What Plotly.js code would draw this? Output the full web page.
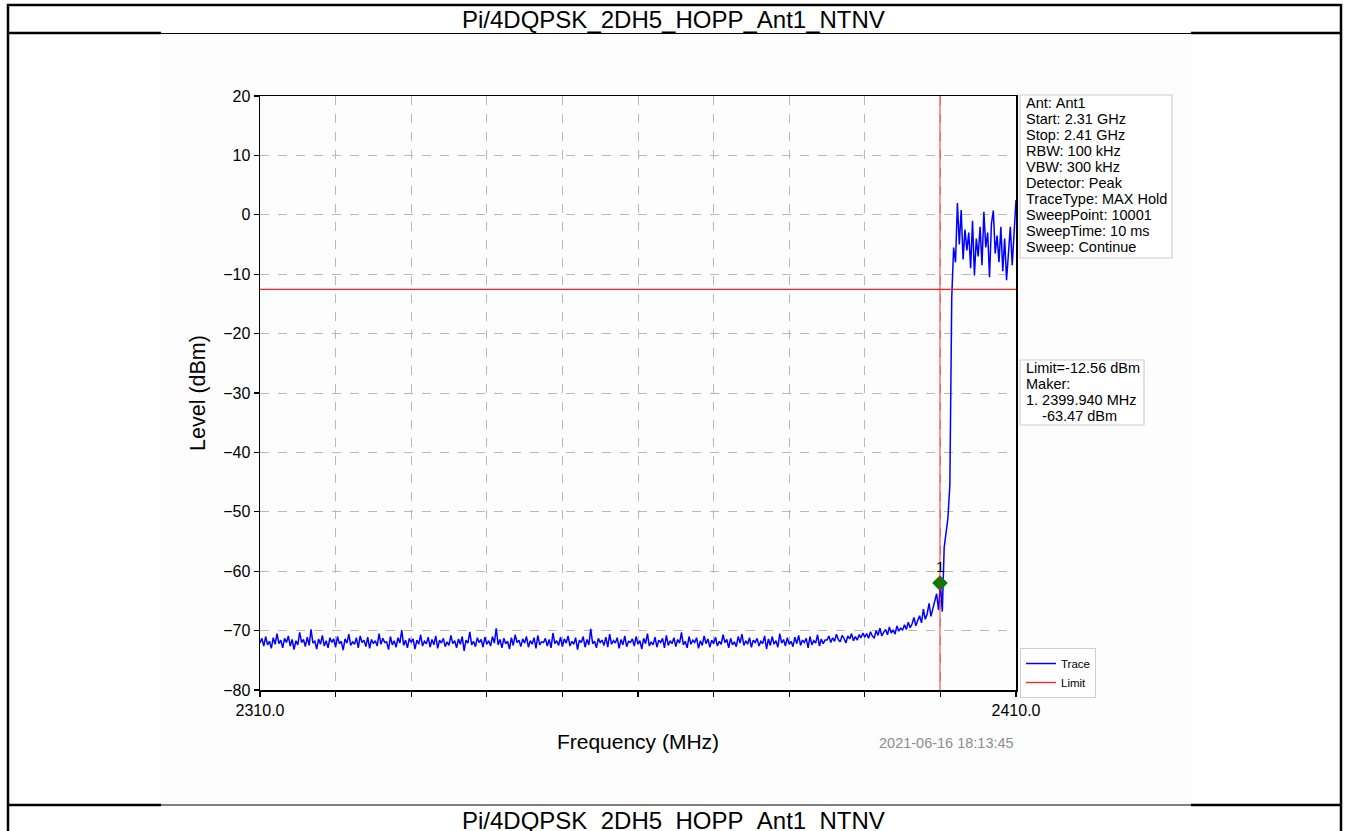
<!DOCTYPE html>
<html>
<head>
<meta charset="utf-8">
<script src="https://cdn.plot.ly/plotly-3.0.1.min.js"></script>
<style>
html,body{margin:0;padding:0;background:#fff;}
#chart{width:1348px;height:831px;}
</style>
</head>
<body>
<div id="chart"></div>
<script>
// ---------------- DATA ----------------
const chartTitle = 'Pi/4DQPSK_2DH5_HOPP_Ant1_NTNV';
const freqStart = 2310;      // MHz
const freqStep = 0.25;       // MHz between plotted sweep points
// noise floor 2310 - 2384.75 MHz
const floorLevels = [
-72.1,-71.3,-72.6,-71.0,-72.4,-71.8,-73.0,-71.2,-72.3,-70.5,-72.2,-71.6,-72.9,-71.3,-72.0,-70.9,-72.6,-71.5,-73.2,-71.7,
-72.4,-70.3,-72.0,-71.5,-72.7,-71.1,-72.5,-69.8,-72.1,-71.8,-73.1,-71.4,-72.3,-70.8,-72.6,-71.7,-72.9,-71.2,-72.0,-71.4,
-72.8,-71.0,-72.2,-71.8,-73.3,-71.4,-72.1,-70.6,-72.5,-71.9,-72.3,-71.2,-72.9,-70.9,-72.0,-71.6,-72.7,-71.1,-73.0,-71.5,
-72.2,-71.7,-72.6,-70.5,-72.3,-71.3,-72.0,-71.9,-73.2,-71.0,-72.4,-71.7,-72.8,-71.2,-72.1,-69.9,-72.5,-71.6,-72.9,-71.3,
-72.0,-71.4,-73.1,-71.6,-72.3,-70.7,-72.6,-71.8,-72.2,-71.1,-72.8,-71.5,-72.4,-70.9,-73.0,-71.6,-72.1,-71.3,-72.7,-71.9,
-72.5,-70.8,-72.2,-71.7,-72.9,-71.4,-72.3,-71.0,-73.4,-71.6,-72.1,-70.2,-72.4,-71.8,-72.7,-71.2,-72.0,-71.5,-72.8,-71.1,
-72.3,-71.7,-72.6,-71.0,-72.1,-69.6,-72.4,-71.5,-72.9,-71.3,-72.2,-71.8,-73.1,-71.2,-72.5,-70.7,-72.0,-71.6,-72.7,-71.4,
-72.1,-71.0,-72.8,-71.7,-72.3,-71.2,-73.0,-70.8,-72.4,-71.9,-72.0,-71.3,-72.6,-71.5,-72.9,-70.4,-72.2,-71.7,-72.5,-71.1,
-72.7,-71.4,-72.1,-70.9,-72.6,-71.8,-72.3,-71.2,-73.2,-71.6,-72.0,-71.0,-72.8,-71.5,-72.4,-69.7,-72.2,-71.8,-72.9,-71.3,
-72.0,-71.6,-72.5,-71.1,-72.8,-70.6,-72.3,-71.7,-72.1,-71.2,-73.0,-71.5,-72.4,-70.9,-72.7,-71.8,-72.0,-71.4,-72.6,-71.0,
-72.3,-71.7,-73.1,-71.3,-72.2,-70.5,-72.6,-71.9,-72.4,-71.1,-72.8,-71.6,-72.0,-71.3,-72.9,-70.8,-72.5,-71.7,-72.2,-71.2,
-72.7,-71.5,-72.1,-70.3,-72.4,-71.8,-72.9,-71.0,-72.3,-71.6,-72.0,-71.2,-73.0,-71.7,-72.5,-70.9,-72.2,-71.4,-72.8,-71.6,
-72.2,-71.1,-72.6,-71.8,-72.3,-70.7,-72.0,-71.5,-72.9,-71.3,-72.4,-71.9,-72.7,-71.0,-72.1,-70.6,-72.5,-71.7,-72.3,-71.2,
-72.8,-71.6,-72.0,-71.3,-72.6,-71.8,-72.2,-70.9,-73.1,-71.4,-72.5,-71.0,-72.3,-71.7,-72.8,-70.5,-72.1,-71.5,-72.6,-71.2,
-72.3,-71.8,-72.7,-71.1,-72.2,-70.8,-72.5,-71.6,-72.0,-71.3,-72.9,-71.0,-72.4,-71.7,-72.1,-70.7,-72.6,-71.4,-72.2,-71.6
];
// band-edge skirt 2385 - 2399.75 MHz
const skirtLevels = [
-71.6,-70.9,-72.0,-71.2,-71.8,-70.6,-71.5,-71.9,-70.8,-71.3,-72.1,-70.9,-71.4,-70.5,-71.7,-71.0,-71.6,-70.7,-71.2,-70.4,
-71.1,-70.5,-71.3,-70.2,-70.9,-71.2,-70.0,-70.8,-69.6,-70.9,-70.3,-69.8,-70.7,-69.4,-70.4,-69.9,-70.6,-69.2,-70.1,-69.6,
-69.9,-69.0,-69.8,-68.6,-69.5,-68.9,-67.8,-69.2,-68.3,-67.5,-68.7,-66.4,-68.1,-67.2,-65.4,-67.6,-66.3,-65.1,-63.8,-66.5
];
// in-band 2400 - 2410 MHz
const bandLevels = [
-62.0,-66.8,-56.0,-53.5,-51.0,-45.5,-14.0,-5.5,-8.0,2.0,
-5.0,0.8,-7.5,-2.5,-6.0,-3.0,-9.0,-1.0,-10.2,-4.0,
-7.0,-2.0,-8.5,0.5,-5.5,-3.0,-10.5,-1.5,0.7,-6.5,
-3.5,-8.0,-2.0,-9.5,-4.0,-11.0,-6.0,-2.0,-8.5,-3.0,2.5
];
const limitLevel = -12.56;           // dBm
const markerFreq = [2399.94];        // MHz
const markerLevel = [-62.0];         // dBm (as drawn)
const xRange = [2310, 2410];
const yRange = [-80, 20];
const xTickVals = [2310,2320,2330,2340,2350,2360,2370,2380,2390,2400,2410];
const xTickText = ['2310.0','','','','','','','','','','2410.0'];
const yTickVals = [-80,-70,-60,-50,-40,-30,-20,-10,0,10,20];
const infoLines = ['Ant: Ant1','Start: 2.31 GHz','Stop: 2.41 GHz','RBW: 100 kHz','VBW: 300 kHz',
  'Detector: Peak','TraceType: MAX Hold','SweepPoint: 10001','SweepTime: 10 ms','Sweep: Continue'];
const markerLines = ['Limit=-12.56 dBm','Maker:','1. 2399.940 MHz','    -63.47 dBm'];
const timestamp = '2021-06-16 18:13:45';

// ---------------- BUILD ----------------
const levels = floorLevels.concat(skirtLevels, bandLevels);
const freqs = levels.map((_, i) => freqStart + i * freqStep);

const L = 260, R = 1016, T = 96, B = 690;
const px = x => (x - L) / (R - L);
const py = y => (B - y) / (B - T);
const FONT = 'Liberation Sans, Arial, Helvetica, sans-serif';

const traces = [
  {x: freqs, y: levels, type: 'scatter', mode: 'lines', name: 'Trace',
   line: {color: '#0000ff', width: 1.5}},
  {x: xRange, y: [limitLevel, limitLevel], type: 'scatter', mode: 'lines', name: 'Limit',
   line: {color: '#ff2020', width: 1.3}},
  {x: markerFreq, y: markerLevel, type: 'scatter', mode: 'markers', showlegend: false,
   marker: {symbol: 'diamond', size: 12, color: '#008000'}}
];

const annotations = [];
annotations.push({xref: 'paper', yref: 'paper', x: 0.5476, y: py(19), text: chartTitle, showarrow: false,
  xanchor: 'center', yanchor: 'middle', font: {family: FONT, size: 24, color: '#000'}});
annotations.push({xref: 'paper', yref: 'paper', x: 0.5476, y: py(820), text: chartTitle, showarrow: false,
  xanchor: 'center', yanchor: 'middle', font: {family: FONT, size: 24, color: '#000'}});
infoLines.forEach((t, i) => annotations.push({xref: 'paper', yref: 'paper', x: px(1024), y: py(103 + 16 * i),
  text: t.replace(/ /g, '&nbsp;'), showarrow: false, xanchor: 'left', yanchor: 'middle',
  font: {family: FONT, size: 14.5, color: '#000'}}));
markerLines.forEach((t, i) => annotations.push({xref: 'paper', yref: 'paper', x: px(1024), y: py(368 + 16 * i),
  text: t.replace(/ /g, '&nbsp;'), showarrow: false, xanchor: 'left', yanchor: 'middle',
  font: {family: FONT, size: 14.5, color: '#000'}}));
annotations.push({xref: 'x', yref: 'y', x: markerFreq[0], y: markerLevel[0], yshift: 17, text: '1',
  showarrow: false, xanchor: 'center', yanchor: 'middle', font: {family: FONT, size: 15, color: '#000'}});
annotations.push({xref: 'paper', yref: 'paper', x: 1, y: py(743), text: timestamp, showarrow: false,
  xanchor: 'right', yanchor: 'middle', font: {family: FONT, size: 14.5, color: '#8c8c8c'}});

const blk = {color: '#000', width: 2.5};
const shapes = [
  {type: 'rect', xref: 'paper', yref: 'paper', x0: px(161), x1: px(1191), y0: py(804), y1: py(34),
   fillcolor: '#fdfdfd', line: {width: 0}, layer: 'below'},
  {type: 'rect', xref: 'paper', yref: 'paper', x0: px(8), x1: px(1341), y0: py(840), y1: py(5),
   line: blk, fillcolor: 'rgba(0,0,0,0)'},
  {type: 'line', xref: 'paper', yref: 'paper', x0: px(8), x1: px(161), y0: py(33), y1: py(33), line: blk},
  {type: 'line', xref: 'paper', yref: 'paper', x0: px(1191), x1: px(1341), y0: py(33), y1: py(33), line: blk},
  {type: 'line', xref: 'paper', yref: 'paper', x0: px(161), x1: px(1191), y0: py(33.5), y1: py(33.5), line: {color: '#000', width: 1}},
  {type: 'line', xref: 'paper', yref: 'paper', x0: px(8), x1: px(161), y0: py(805), y1: py(805), line: blk},
  {type: 'line', xref: 'paper', yref: 'paper', x0: px(1191), x1: px(1341), y0: py(805), y1: py(805), line: blk},
  {type: 'line', xref: 'paper', yref: 'paper', x0: px(161), x1: px(1191), y0: py(805), y1: py(805), line: {color: '#000', width: 1}},
  // info boxes
  {type: 'rect', xref: 'paper', yref: 'paper', x0: px(1020), x1: px(1172), y0: py(258), y1: py(95),
   line: {color: '#cfcfcf', width: 1.2}, fillcolor: '#ffffff', layer: 'below'},
  {type: 'rect', xref: 'paper', yref: 'paper', x0: px(1020), x1: px(1144), y0: py(425), y1: py(360),
   line: {color: '#cfcfcf', width: 1.2}, fillcolor: '#ffffff', layer: 'below'},
  // marker frequency line
  {type: 'line', xref: 'x', yref: 'paper', x0: markerFreq[0], x1: markerFreq[0], y0: 0, y1: 1,
   line: {color: 'rgba(255,0,0,0.55)', width: 1.5}}
];

const axisCommon = {
  showline: true, linecolor: '#000', linewidth: 1.5, mirror: true,
  ticks: 'outside', ticklen: 5, tickwidth: 1.2, tickcolor: '#000',
  showgrid: true, gridcolor: '#b8b8b8', griddash: 'dash', gridwidth: 1,
  zeroline: false, tickfont: {family: FONT, size: 16, color: '#000'}
};

const layout = {
  width: 1348, height: 831,
  paper_bgcolor: '#ffffff', plot_bgcolor: '#ffffff',
  margin: {l: L, r: 1348 - R, t: T, b: 831 - B, pad: 0, autoexpand: false},
  showlegend: true,
  legend: {x: px(1020), y: py(648), xanchor: 'left', yanchor: 'top', bgcolor: '#ffffff',
    bordercolor: '#cfcfcf', borderwidth: 1, font: {family: FONT, size: 11.5, color: '#000'},
    itemwidth: 30, tracegroupgap: 0},
  xaxis: Object.assign({}, axisCommon, {range: xRange, tickmode: 'array', tickvals: xTickVals, ticktext: xTickText,
    title: {text: 'Frequency (MHz)', font: {family: FONT, size: 21, color: '#000'}, standoff: 16}}),
  yaxis: Object.assign({}, axisCommon, {range: yRange, tickmode: 'array', tickvals: yTickVals,
    title: {text: 'Level (dBm)', font: {family: FONT, size: 21.5, color: '#000'}, standoff: 11}}),
  annotations: annotations,
  shapes: shapes
};

Plotly.newPlot('chart', traces, layout, {displayModeBar: false, staticPlot: true});
</script>
</body>
</html>
